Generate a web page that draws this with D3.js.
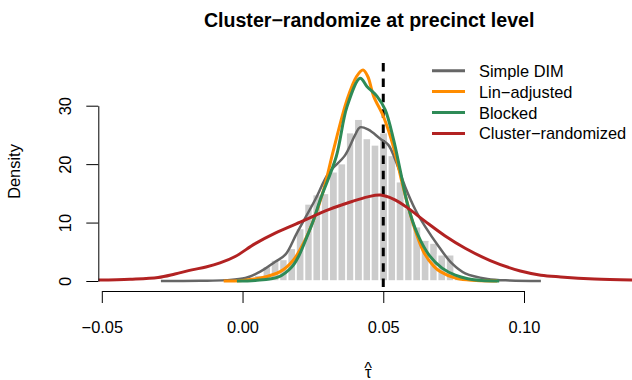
<!DOCTYPE html>
<meta charset="utf-8">
<script src="https://cdn.jsdelivr.net/npm/d3@7"></script>
<style>
body { margin: 0; background: #fff; }
text { font-family: "Liberation Sans", Arial, sans-serif; fill: #000; }
</style>
<body>
<script>

// histogram of the estimates (density scale)
var histBreaks = [0.0042, 0.0072, 0.0101, 0.0131, 0.0160, 0.0190, 0.0220, 0.0249, 0.0279,
  0.0308, 0.0338, 0.0368, 0.0397, 0.0427, 0.0456, 0.0486, 0.0516, 0.0545, 0.0575,
  0.0604, 0.0634, 0.0664, 0.0693, 0.0723, 0.0752, 0.0782];
var histDensity = [1.0, 2.5, 3.6, 3.7, 5.6, 9.0, 13.2, 14.8, 15.0, 18.7, 20.1, 25.4, 27.7,
  24.4, 23.3, 25.4, 21.5, 17.0, 12.5, 9.3, 7.0, 6.5, 4.5, 4.5, 1.0];

// kernel density curves
var simpleX = [-0.029, -0.015, -0.006, 0.001, 0.0063, 0.0116, 0.0152, 0.0193, 0.0258, 0.0305,
  0.0364, 0.040, 0.0417, 0.0447, 0.0488, 0.0518, 0.0543, 0.0578, 0.0614, 0.0649, 0.0697,
  0.0744, 0.0791, 0.087, 0.095, 0.106];
var simpleY = [0, 0.05, 0.15, 0.5, 1.6, 3.3, 4.5, 8.2, 13.9, 18.4, 21.5, 25.0, 26.3, 25.9,
  24.4, 23.3, 20.7, 16.1, 12.2, 9.3, 5.9, 3.0, 1.3, 0.35, 0.08, 0];

var linX = [-0.0067, 0.0, 0.0063, 0.0134, 0.0181, 0.0217, 0.0252, 0.0288, 0.0323, 0.0371,
  0.0405, 0.0428, 0.0445, 0.0466, 0.0501, 0.0537, 0.0570, 0.0608, 0.0643, 0.068, 0.0703,
  0.0762, 0.083, 0.0905];
var linY = [0, 0.1, 0.5, 1.6, 3.6, 6.5, 10.4, 15.6, 22.4, 31.0, 35.0, 36.1, 35.0, 31.6, 28.1,
  22.8, 16.2, 9.5, 5.0, 2.5, 1.6, 0.4, 0.1, 0];

var blockX = [-0.002, 0.0045, 0.0128, 0.0175, 0.0199, 0.0229, 0.0252, 0.0276, 0.0333, 0.0371,
  0.0418, 0.0442, 0.0478, 0.0507, 0.0537, 0.056, 0.0587, 0.0622, 0.0665, 0.0709, 0.0756,
  0.080, 0.085, 0.0912];
var blockY = [0, 0.1, 0.7, 2.4, 4.2, 7.6, 10.4, 13.9, 21.3, 29.8, 34.7, 33.3, 31.6, 29.3, 24.1,
  19.0, 13.0, 8.0, 4.3, 2.2, 1.0, 0.4, 0.1, 0];

var clusterX = [-0.0512, -0.04, -0.03, -0.024, -0.018, -0.013, -0.008, -0.0026, 0.0045, 0.0116,
  0.0211, 0.0306, 0.0389, 0.0445, 0.049, 0.0536, 0.0584, 0.0649, 0.072, 0.0791, 0.088,
  0.0987, 0.106, 0.113, 0.125, 0.1385];
var clusterY = [0.15, 0.3, 0.6, 1.2, 1.9, 2.4, 3.1, 4.2, 6.4, 8.2, 10.2, 12.2, 13.6, 14.4, 14.7,
  14.0, 12.6, 10.2, 7.7, 5.6, 3.5, 1.7, 1.0, 0.7, 0.35, 0.17];

var seriesNames = ["Simple DIM", "Lin\u2212adjusted", "Blocked", "Cluster\u2212randomized"];
var seriesColors = ["#666666", "#ff8c00", "#2e8b57", "#b22222"];
var trueEffect = 0.05;

var xTicks = [-0.05, 0, 0.05, 0.10];
var yTicks = [0, 10, 20, 30];

var width = 632, height = 380;
var plotLeft = 98.3, plotRight = 640, plotTop = 52, plotBottom = 291;

var svg = d3.select("body").append("svg")
    .attr("width", width)
    .attr("height", height);

var x = d3.scaleLinear().domain([-0.05, 0.10]).range([101.8, 524]);
var y = d3.scaleLinear().domain([0, 30]).range([281, 105.7]);

svg.append("clipPath").attr("id", "plotclip")
  .append("rect")
    .attr("x", plotLeft).attr("y", plotTop)
    .attr("width", plotRight - plotLeft).attr("height", plotBottom - plotTop);

var plot = svg.append("g").attr("clip-path", "url(#plotclip)");

// bars
plot.append("g")
  .selectAll("rect")
  .data(histDensity)
  .enter().append("rect")
    .attr("x", function(d, i) { return x(histBreaks[i]); })
    .attr("width", function(d, i) { return x(histBreaks[i + 1]) - x(histBreaks[i]); })
    .attr("y", function(d) { return y(d); })
    .attr("height", function(d) { return y(0) - y(d); })
    .style("fill", "#cccccc")
    .style("stroke", "#fff")
    .style("stroke-width", 1.6);

// true effect
plot.append("line")
    .attr("x1", x(trueEffect)).attr("x2", x(trueEffect))
    .attr("y1", 63).attr("y2", plotBottom)
    .style("stroke", "#000")
    .style("stroke-width", 3)
    .style("stroke-dasharray", "8.5,6.9");

var curves = [[simpleX, simpleY], [linX, linY], [blockX, blockY], [clusterX, clusterY]];

var line = d3.line()
    .x(function(d) { return x(d[0]); })
    .y(function(d) { return y(d[1]); })
    .curve(d3.curveCatmullRom.alpha(0.5));

curves.forEach(function(c, k) {
  var pts = c[0].map(function(v, i) { return [v, c[1][i]]; });
  plot.append("path")
      .attr("d", line(pts))
      .style("fill", "none")
      .style("stroke", seriesColors[k])
      .style("stroke-width", k == 0 ? 2.5 : 3)
      .style("stroke-linejoin", "round");
});

// axes
var fmt = function(d) { return d3.format(".2f")(d).replace("-", "\u2212"); };

var xAxis = svg.append("g")
    .attr("transform", "translate(0," + plotBottom + ")")
    .call(d3.axisBottom(x).tickValues(xTicks).tickFormat(fmt).tickSize(12).tickSizeOuter(0).tickPadding(18));

var yAxis = svg.append("g")
    .attr("transform", "translate(" + plotLeft + ",0)")
    .call(d3.axisLeft(y).tickValues(yTicks).tickSize(12).tickSizeOuter(0));

[xAxis, yAxis].forEach(function(a) {
  a.selectAll("path, line").style("stroke", "#000").style("stroke-width", 1);
  a.selectAll("text").style("font-size", "16.4px").style("font-family", "Liberation Sans, Arial, sans-serif");
});

yAxis.selectAll("text")
    .attr("transform", "rotate(-90)")
    .attr("x", 0).attr("y", -27).attr("dy", 0)
    .attr("text-anchor", "middle");

// labels
svg.append("text")
    .attr("x", (plotLeft + plotRight) / 2)
    .attr("y", 27)
    .attr("text-anchor", "middle")
    .style("font-weight", "bold")
    .style("font-size", "19.6px")
    .text("Cluster\u2212randomize at precinct level");

svg.append("text")
    .attr("transform", "translate(20," + ((plotTop + plotBottom) / 2) + ") rotate(-90)")
    .attr("text-anchor", "middle")
    .style("font-size", "16.4px")
    .text("Density");

// x label: tau with a hat, one text element
var cx = (plotLeft + plotRight) / 2 - 1;
var xlab = svg.append("text")
    .attr("text-anchor", "middle")
    .style("font-size", "16.4px");
xlab.append("tspan").attr("x", cx).attr("y", 373.5).text("^");
xlab.append("tspan").attr("x", cx).attr("y", 378).text("\u03c4");

// legend
var legend = svg.append("g");
seriesNames.forEach(function(name, i) {
  var ly = 70.7 + i * 20.9;
  legend.append("line")
      .attr("x1", 432).attr("x2", 465)
      .attr("y1", ly).attr("y2", ly)
      .style("stroke", seriesColors[i])
      .style("stroke-width", 3);
  legend.append("text")
      .attr("x", 479)
      .attr("y", ly + 6)
      .style("font-size", "16.4px")
      .text(name);
});

</script>
</body>
